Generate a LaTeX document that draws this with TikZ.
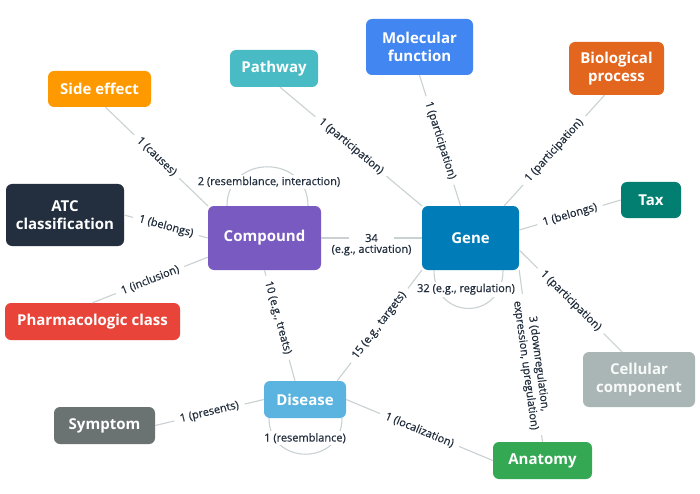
\documentclass[tikz,border=0pt]{standalone}
\usepackage{fontspec}
\setmainfont{Open Sans}
\newfontfamily\linkfont{Open Sans}[FakeBold=0.6]
\usetikzlibrary{positioning}

\definecolor{sideorange}{HTML}{FF9900}
\definecolor{pathteal}{HTML}{48BBC4}
\definecolor{atcnavy}{HTML}{232F3E}
\definecolor{comppurple}{HTML}{785AC0}
\definecolor{molblue}{HTML}{4286F2}
\definecolor{bioorange}{HTML}{E3661E}
\definecolor{taxgreen}{HTML}{027F70}
\definecolor{geneblue}{HTML}{007DB8}
\definecolor{pharmred}{HTML}{E9443A}
\definecolor{disblue}{HTML}{5BB4E0}
\definecolor{symgray}{HTML}{6A7372}
\definecolor{cellgray}{HTML}{AAB5B5}
\definecolor{anatgreen}{HTML}{35A853}
\definecolor{linkgray}{HTML}{C9D1D3}
\definecolor{labelnavy}{HTML}{232F3E}

\begin{document}
\begin{tikzpicture}[x=1pt,y=-1pt]
\tikzstyle{every node}=[font=\fontsize{15}{18}\selectfont\bfseries]
\tikzstyle{ent}=[rounded corners=6pt, text=white, align=center, inner sep=0pt]
\tikzstyle{link}=[draw=linkgray, line width=1.1pt]
\tikzstyle{elabel}=[font=\linkfont\fontsize{11}{13}\selectfont, text=labelnavy, fill=white,
  inner xsep=6pt, inner ysep=2pt, align=center, sloped]
\tikzstyle{looplabel}=[font=\linkfont\fontsize{11}{13}\selectfont, text=labelnavy, fill=white,
  inner xsep=3pt, inner ysep=2pt]

\fill[white] (0,0) rectangle (700,494);

% entity boxes
\node[ent, fill=sideorange, minimum width=103pt, minimum height=36pt] (side) at (99.5,89) {Side effect};
\node[ent, fill=pathteal, minimum width=88pt, minimum height=37pt] (path) at (274,68.5) {Pathway};
\node[ent, fill=atcnavy, minimum width=118pt, minimum height=62pt] (atc) at (65,215) {ATC\\classification};
\node[ent, fill=comppurple, minimum width=113pt, minimum height=64pt] (comp) at (264.5,238) {Compound};
\node[ent, fill=molblue, minimum width=107pt, minimum height=56pt] (mol) at (419.5,47) {Molecular\\function};
\node[ent, fill=bioorange, minimum width=95pt, minimum height=53pt] (bio) at (616.5,68.5) {Biological\\process};
\node[ent, fill=taxgreen, minimum width=60pt, minimum height=36pt] (tax) at (651,200) {Tax};
\node[ent, fill=geneblue, minimum width=97pt, minimum height=64pt] (gene) at (470.5,238) {Gene};
\node[ent, fill=pharmred, minimum width=175pt, minimum height=37pt] (pharm) at (92.5,321.5) {Pharmacologic class};
\node[ent, fill=disblue, minimum width=82pt, minimum height=37pt] (dis) at (305,399.5) {Disease};
\node[ent, fill=symgray, minimum width=101pt, minimum height=37pt] (sym) at (104.5,425.5) {Symptom};
\node[ent, fill=cellgray, text=white!92!cellgray, minimum width=112pt, minimum height=55pt] (cell) at (639,379.5) {Cellular\\component};
\node[ent, fill=anatgreen, minimum width=99pt, minimum height=37pt] (anat) at (542.5,460.5) {Anatomy};

% relations
\draw[link] ([xshift=6pt]side.south) -- (comp.north west) node[elabel, midway] {1 (causes)};
\draw[link] (atc.east) -- (comp.west) node[elabel, midway] {1 (belongs)};
\draw[link] (pharm.north) -- ([yshift=13pt]comp.south west) node[elabel, midway] {1 (inclusion)};
\draw[link] (comp.south) -- ([xshift=-10pt]dis.north) node[elabel, pos=0.43] {10 (e.g., treats)};
\draw[link] ([xshift=6pt]path.south) -- (gene.north west) node[elabel, midway] {1 (participation)};
\draw[link] (mol.south) -- ([xshift=-10pt]gene.north) node[elabel, midway] {1 (participation)};
\draw[link] ([xshift=-12pt]bio.south) -- ([xshift=-15pt]gene.north east) node[elabel, midway] {1 (participation)};
\draw[link] (tax.west) -- ([yshift=8pt]gene.east) node[elabel, midway] {1 (belongs)};
\draw[link] ([yshift=-12pt]gene.east) -- ([xshift=-17pt]cell.north) node[elabel, midway] {1 (participation)};
\draw[link] (gene.south east) -- (anat.north) node[elabel, pos=0.55] {3 (downregulation,\\expression, upregulation)};
\draw[link] (gene.south west) -- ([xshift=-9pt]dis.north east) node[elabel, midway] {15 (e.g., targets)};
\draw[link] (sym.east) -- (dis.west) node[elabel, midway] {1 (presents)};
\draw[link] (dis.east) -- (anat.west) node[elabel, midway] {1 (localization)};

% compound -- gene
\draw[link] (comp.east) -- (gene.west) node[elabel, midway, inner xsep=16pt] (act) {34};
\node[looplabel, fill=none, below=-2pt of act] (actnote) {(e.g., activation)};

% self loops
\draw[link] ([xshift=-37.5pt]comp.north) .. controls +(0,-52) and +(0,-52) .. ([xshift=43.5pt]comp.north);
\node[looplabel] (comploop) at ([xshift=4.5pt,yshift=24pt]comp.north) {2 (resemblance, interaction)};
\draw[link] ([xshift=-36.5pt]gene.south) .. controls +(0,51) and +(0,51) .. ([xshift=32.5pt]gene.south);
\node[looplabel] (geneloop) at ([xshift=-4.5pt,yshift=-19pt]gene.south) {32 (e.g., regulation)};
\draw[link] ([xshift=-36pt]dis.south) .. controls +(0,48) and +(0,48) .. ([xshift=37pt]dis.south);
\node[looplabel] (disloop) at ([yshift=-20pt]dis.south) {1 (resemblance)};
\end{tikzpicture}
\end{document}
